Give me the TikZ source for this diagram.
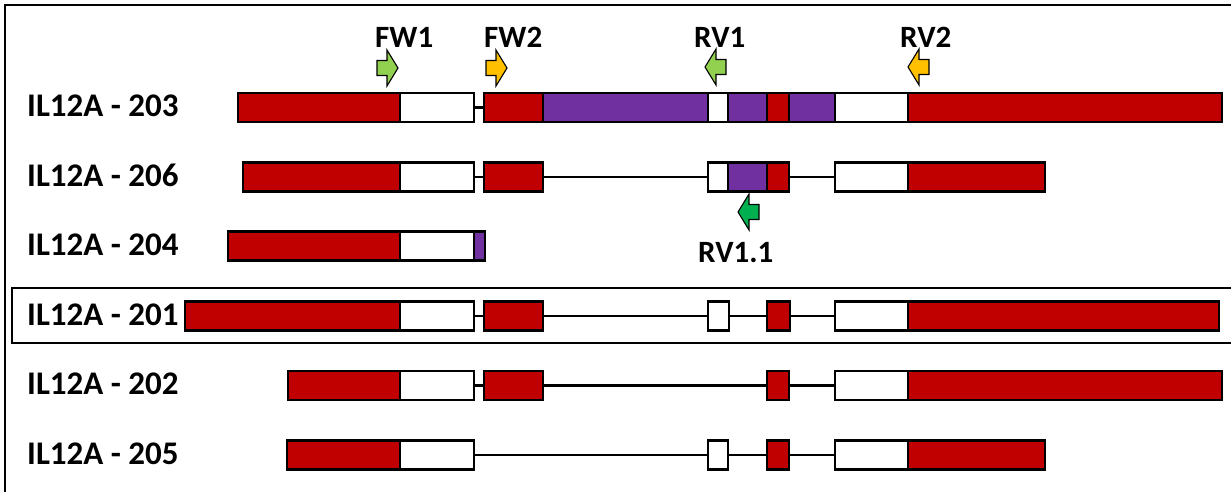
\documentclass[tikz,border=0pt]{standalone}
\usepackage{fontspec}
\setmainfont{Carlito}
\definecolor{exred}{HTML}{C00000}
\definecolor{expurple}{HTML}{7030A0}
\definecolor{plgreen}{HTML}{92D050}
\definecolor{porange}{HTML}{FFC000}
\definecolor{pgreen}{HTML}{00B050}
\tikzset{
  exonbox/.style={draw=black, line width=2.4pt, inner sep=0pt, outer sep=0pt,
                  minimum height=29, rectangle},
  intron/.style={draw=black, line width=2.6pt},
  frameline/.style={draw=black, line width=2.8pt},
  isolabel/.style={font=\bfseries\fontsize{33}{33}\selectfont, inner sep=0pt, anchor=west},
  primerlabel/.style={font=\bfseries\fontsize{31}{31}\selectfont, inner sep=0pt, anchor=west},
  primerarrow/.style={draw=black, line width=1.1pt, line join=miter},
  primer/.pic={\path[pic actions] (0,-7.5) -- (10,-7.5) -- (10,-18) -- (21,0)
               -- (10,18) -- (10,7.5) -- (0,7.5) -- cycle;}
}
% exon segment: name, left x, right x, row y, fill colour
\newcommand\exseg[5]{\node[exonbox, fill=#5, minimum width={#3-#2}] (#1) at ({(#2+#3)/2},#4) {};}
\begin{document}
\begin{tikzpicture}[x=1pt, y=-1pt]
\clip (0,0) rectangle (1231,491);
\fill[white] (0,0) rectangle (1231,491);

% outer frame
\draw[frameline] (5,495) -- (5,5) -- (1240,5);
% highlight of the canonical transcript
\draw[frameline] (12,288) rectangle (1240,343);

% transcript labels
\node[isolabel] (l203) at (27,105.5) {IL12A - 203};
\node[isolabel] (l206) at (27,175) {IL12A - 206};
\node[isolabel] (l204) at (27,244.5) {IL12A - 204};
\node[isolabel] (l201) at (27,314.5) {IL12A - 201};
\node[isolabel] (l202) at (27,384) {IL12A - 202};
\node[isolabel] (l205) at (27,453.5) {IL12A - 205};

% IL12A-203
\exseg{a1}{238}{400}{107.5}{exred}
\exseg{a2}{400}{474}{107.5}{white}
\exseg{a3}{484}{543}{107.5}{exred}
\exseg{a4}{543}{708}{107.5}{expurple}
\exseg{a5}{708}{728}{107.5}{white}
\exseg{a6}{728}{767}{107.5}{expurple}
\exseg{a7}{767}{789}{107.5}{exred}
\exseg{a8}{789}{835}{107.5}{expurple}
\exseg{a9}{835}{908}{107.5}{white}
\exseg{a10}{908}{1222}{107.5}{exred}
\draw[intron] (a2.east) -- (a3.west);

% IL12A-206
\exseg{b1}{243}{400}{177}{exred}
\exseg{b2}{400}{474}{177}{white}
\exseg{b3}{484}{543}{177}{exred}
\exseg{b4}{708}{728}{177}{white}
\exseg{b5}{728}{767}{177}{expurple}
\exseg{b6}{767}{789}{177}{exred}
\exseg{b7}{835}{908}{177}{white}
\exseg{b8}{908}{1045}{177}{exred}
\draw[intron] (b2.east) -- (b3.west);
\draw[intron] (b3.east) -- (b4.west);
\draw[intron] (b6.east) -- (b7.west);

% IL12A-204
\exseg{c1}{228}{400}{246}{exred}
\exseg{c2}{400}{474}{246}{white}
\exseg{c3}{474}{485}{246}{expurple}

% IL12A-201
\exseg{d1}{185}{400}{316}{exred}
\exseg{d2}{400}{474}{316}{white}
\exseg{d3}{484}{543}{316}{exred}
\exseg{d4}{708}{729}{316}{white}
\exseg{d5}{767}{790}{316}{exred}
\exseg{d6}{835}{908}{316}{white}
\exseg{d7}{908}{1219}{316}{exred}
\draw[intron] (d2.east) -- (d3.west);
\draw[intron] (d3.east) -- (d4.west);
\draw[intron] (d4.east) -- (d5.west);
\draw[intron] (d5.east) -- (d6.west);

% IL12A-202
\exseg{e1}{288}{400}{385.5}{exred}
\exseg{e2}{400}{474}{385.5}{white}
\exseg{e3}{484}{543}{385.5}{exred}
\exseg{e4}{767}{789}{385.5}{exred}
\exseg{e5}{835}{908}{385.5}{white}
\exseg{e6}{908}{1222}{385.5}{exred}
\draw[intron] (e2.east) -- (e3.west);
\draw[intron] (e3.east) -- (e4.west);
\draw[intron] (e4.east) -- (e5.west);

% IL12A-205
\exseg{f1}{287}{400}{455}{exred}
\exseg{f2}{400}{474}{455}{white}
\exseg{f3}{708}{728}{455}{white}
\exseg{f4}{767}{789}{455}{exred}
\exseg{f5}{835}{908}{455}{white}
\exseg{f6}{908}{1045}{455}{exred}
\draw[intron] (f2.east) -- (f3.west);
\draw[intron] (f3.east) -- (f4.west);
\draw[intron] (f4.east) -- (f5.west);

% primers
\pic[primerarrow, fill=plgreen] (fw1) at (377,68) {primer};
\pic[primerarrow, fill=porange] (fw2) at (486,68) {primer};
\pic[primerarrow, fill=plgreen, xscale=-1] (rv1) at (726,67) {primer};
\pic[primerarrow, fill=porange, xscale=-1] (rv2) at (929,67) {primer};
\pic[primerarrow, fill=pgreen, xscale=-1] (rv11) at (759,212) {primer};

\node[primerlabel] (tfw1) at (375,37.5) {FW1};
\node[primerlabel] (tfw2) at (484,37.5) {FW2};
\node[primerlabel] (trv1) at (694,37.5) {RV1};
\node[primerlabel] (trv2) at (900,37.5) {RV2};
\node[primerlabel] (trv11) at (698,253) {RV1.1};
\end{tikzpicture}
\end{document}
